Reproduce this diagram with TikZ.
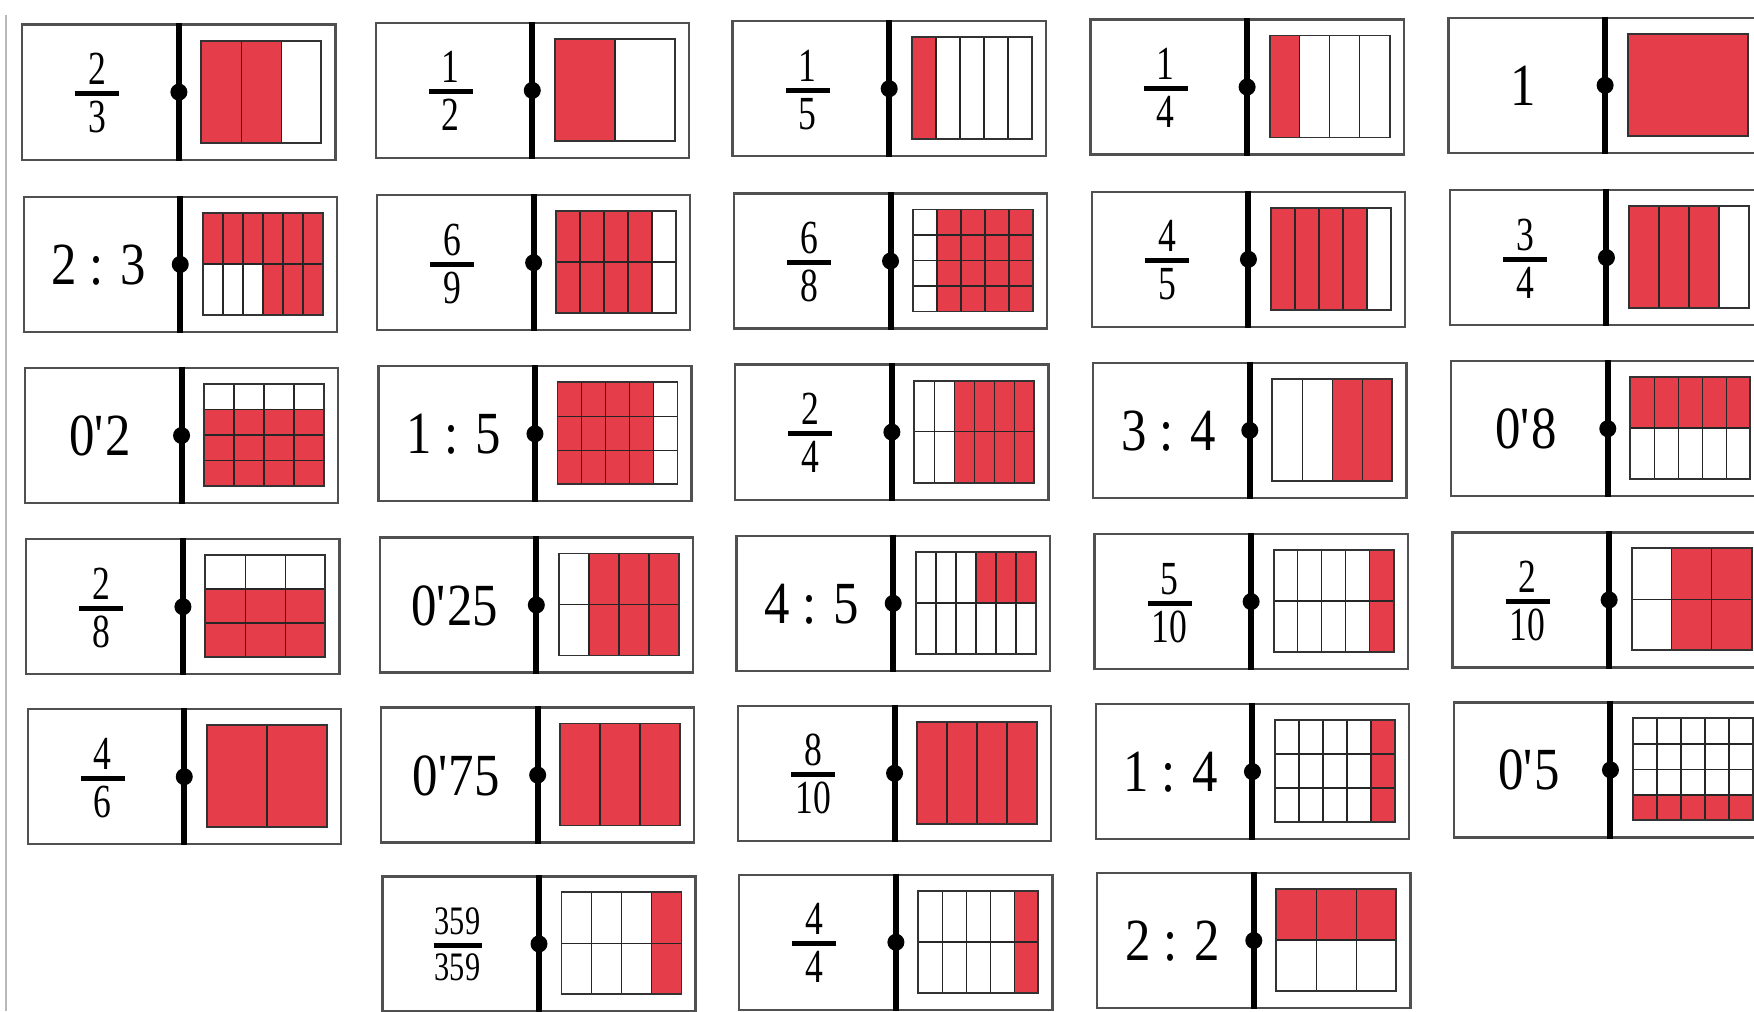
\documentclass[tikz,border=0pt]{standalone}
\usepackage{fontspec}
\newfontfamily\labfont[FakeStretch=0.85]{Liberation Serif}
\newfontfamily\fracfont[FakeStretch=0.75]{Liberation Serif}
\definecolor{domred}{RGB}{229,62,74}
\definecolor{edgegray}{RGB}{80,80,80}
\tikzset{
  tilebox/.style={draw=edgegray, line width=0.65pt, minimum width=3.13cm, minimum height=1.35cm, inner sep=0pt, fill=white},
  divider/.style={line width=1.7pt, black},
  gridline/.style={line width=0.45pt, black!85},
  gridedge/.style={line width=0.55pt, black!80},
  ratiolab/.style={font=\labfont\fontsize{17}{17}\selectfont, inner sep=0pt, anchor=base},
  fraclab/.style={font=\fracfont\fontsize{13.5}{13.5}\selectfont, inner sep=0pt, anchor=base},
  smallfrac/.style={font=\fracfont\fontsize{11.5}{11.5}\selectfont},
  fracbar/.style={line width=1.4pt, line cap=butt},
}
\newcommand\rat[1]{\node[ratiolab] (\curname-lab) at (75,87.5) {#1};}
\newcommand\frc[3][22]{%
  \node[fraclab] (\curname-num) at (75,60) {#2};
  \node[fraclab] (\curname-den) at (75,108) {#3};
  \draw[fracbar] (75-#1,69) -- (75+#1,69);}
\newcommand\frcsmall[2]{%
  \node[fraclab,smallfrac] (\curname-num) at (75,58) {#1};
  \node[fraclab,smallfrac] (\curname-den) at (75,104) {#2};
  \draw[fracbar] (51,69) -- (99,69);}
% #1 name, #2 column, #3 row, #4 label code, #5 columns, #6 rows, #7 red rectangles
\newcommand\domino[7]{%
  \pgfmathsetmacro\xo{{22.4,375.8,732.7,1090.6,1448.6}[#2]+1.34*#3}%
  \pgfmathsetmacro\yo{{24.6,196.9,368.0,539.2,709.2,878.1}[#3]-1.7*#2}%
  \def\curname{#1}%
  \begin{scope}[shift={(\xo,\yo)}]
    \node[tilebox] (#1) at (156.5,67.5) {};
    \draw[divider] (#1.north) -- (#1.south);
    \fill (#1.center) circle[radius=0.085cm];
    #4
    \foreach \a/\b/\c/\d in {#7} {\fill[domred] (179+\a*120/#5,16+\b*102/#6) rectangle (179+\c*120/#5,16+\d*102/#6);}
    \ifnum#5>1
      \pgfmathtruncatemacro\nc{#5-1}%
      \foreach \i in {1,...,\nc} {\draw[gridline] (179+\i*120/#5,16) -- (179+\i*120/#5,118);}
    \fi
    \ifnum#6>1
      \pgfmathtruncatemacro\nr{#6-1}%
      \foreach \j in {1,...,\nr} {\draw[gridline] (179,16+\j*102/#6) -- (299,16+\j*102/#6);}
    \fi
    \draw[gridedge] (179,16) rectangle (299,118);
  \end{scope}
}
\begin{document}
\begin{tikzpicture}[x=0.01cm,y=-0.01cm]
  \useasboundingbox (0,0) rectangle (1754,1011);
  \clip (0,0) rectangle (1754,1011);
  \fill[white] (0,0) rectangle (1754,1011);
  \draw[gray!55, line width=0.4pt] (6,15) -- (6,1011);
  % row 1
  \domino{a1}{0}{0}{\frc{2}{3}}{3}{1}{0/0/2/1}
  \domino{a2}{1}{0}{\frc{1}{2}}{2}{1}{0/0/1/1}
  \domino{a3}{2}{0}{\frc{1}{5}}{5}{1}{0/0/1/1}
  \domino{a4}{3}{0}{\frc{1}{4}}{4}{1}{0/0/1/1}
  \domino{a5}{4}{0}{\rat{1}}{1}{1}{0/0/1/1}
  % row 2
  \domino{b1}{0}{1}{\rat{2 : 3}}{6}{2}{0/0/6/1,3/1/6/2}
  \domino{b2}{1}{1}{\frc{6}{9}}{5}{2}{0/0/4/2}
  \domino{b3}{2}{1}{\frc{6}{8}}{5}{4}{1/0/5/4}
  \domino{b4}{3}{1}{\frc{4}{5}}{5}{1}{0/0/4/1}
  \domino{b5}{4}{1}{\frc{3}{4}}{4}{1}{0/0/3/1}
  % row 3
  \domino{c1}{0}{2}{\rat{0\textquotesingle2}}{4}{4}{0/1/4/4}
  \domino{c2}{1}{2}{\rat{1 : 5}}{5}{3}{0/0/4/3}
  \domino{c3}{2}{2}{\frc{2}{4}}{6}{2}{2/0/6/2}
  \domino{c4}{3}{2}{\rat{3 : 4}}{4}{1}{2/0/4/1}
  \domino{c5}{4}{2}{\rat{0\textquotesingle8}}{5}{2}{0/0/5/1}
  % row 4
  \domino{d1}{0}{3}{\frc{2}{8}}{3}{3}{0/1/3/3}
  \domino{d2}{1}{3}{\rat{0\textquotesingle25}}{4}{2}{1/0/4/2}
  \domino{d3}{2}{3}{\rat{4 : 5}}{6}{2}{3/0/6/1}
  \domino{d4}{3}{3}{\frc{5}{10}}{5}{2}{4/0/5/2}
  \domino{d5}{4}{3}{\frc{2}{10}}{3}{2}{1/0/3/2}
  % row 5
  \domino{e1}{0}{4}{\frc{4}{6}}{2}{1}{0/0/2/1}
  \domino{e2}{1}{4}{\rat{0\textquotesingle75}}{3}{1}{0/0/3/1}
  \domino{e3}{2}{4}{\frc{8}{10}}{4}{1}{0/0/4/1}
  \domino{e4}{3}{4}{\rat{1 : 4}}{5}{3}{4/0/5/3}
  \domino{e5}{4}{4}{\rat{0\textquotesingle5}}{5}{4}{0/3/5/4}
  % row 6
  \domino{f2}{1}{5}{\frcsmall{359}{359}}{4}{2}{3/0/4/2}
  \domino{f3}{2}{5}{\frc{4}{4}}{5}{2}{4/0/5/2}
  \domino{f4}{3}{5}{\rat{2 : 2}}{3}{2}{0/0/3/1}
\end{tikzpicture}
\end{document}
